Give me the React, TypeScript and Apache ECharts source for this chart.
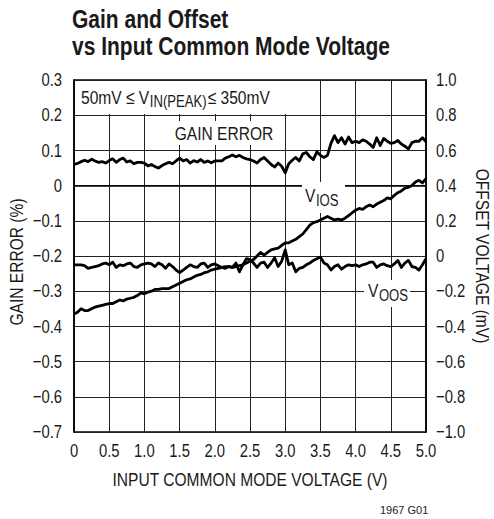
import React, { useEffect, useRef } from 'react';
import * as echarts from 'echarts';

const VOLTAGE = [
  0, 0.05, 0.1, 0.15, 0.2, 0.25, 0.3, 0.35, 0.4, 0.45,
  0.5, 0.55, 0.6, 0.65, 0.7, 0.75, 0.8, 0.85, 0.9, 0.95,
  1.0, 1.05, 1.1, 1.15, 1.2, 1.25, 1.3, 1.35, 1.4, 1.45,
  1.5, 1.55, 1.6, 1.65, 1.7, 1.75, 1.8, 1.85, 1.9, 1.95,
  2.0, 2.05, 2.1, 2.15, 2.2, 2.25, 2.3, 2.35, 2.4, 2.45,
  2.5, 2.55, 2.6, 2.65, 2.7, 2.75, 2.8, 2.85, 2.9, 2.95,
  3.0, 3.05, 3.1, 3.15, 3.2, 3.25, 3.3, 3.35, 3.4, 3.45,
  3.5, 3.55, 3.6, 3.65, 3.7, 3.75, 3.8, 3.85, 3.9, 3.95,
  4.0, 4.05, 4.1, 4.15, 4.2, 4.25, 4.3, 4.35, 4.4, 4.45,
  4.5, 4.55, 4.6, 4.65, 4.7, 4.75, 4.8, 4.85, 4.9, 4.95,
  5.0,
];

// Gain error (%), left axis
const GAIN_ERROR = [
  0.060, 0.063, 0.068, 0.072, 0.068, 0.075, 0.070, 0.066, 0.068, 0.064,
  0.071, 0.076, 0.066, 0.074, 0.078, 0.067, 0.070, 0.062, 0.066, 0.066,
  0.064, 0.056, 0.060, 0.054, 0.050, 0.057, 0.062, 0.066, 0.062, 0.070,
  0.078, 0.070, 0.074, 0.064, 0.071, 0.067, 0.074, 0.066, 0.070, 0.065,
  0.070, 0.070, 0.070, 0.078, 0.082, 0.087, 0.082, 0.086, 0.080, 0.076,
  0.074, 0.070, 0.064, 0.074, 0.080, 0.070, 0.060, 0.053, 0.064, 0.055,
  0.036, 0.062, 0.072, 0.080, 0.070, 0.090, 0.094, 0.082, 0.074, 0.096,
  0.086, 0.080, 0.086, 0.120, 0.142, 0.122, 0.136, 0.118, 0.138, 0.122,
  0.126, 0.122, 0.130, 0.126, 0.118, 0.108, 0.136, 0.114, 0.134, 0.126,
  0.120, 0.122, 0.128, 0.118, 0.112, 0.104, 0.122, 0.126, 0.126, 0.136,
  0.124,
];

// Input offset voltage V_IOS (mV), right axis
const V_IOS = [
  -0.33, -0.32, -0.30, -0.31, -0.31, -0.30, -0.29, -0.285, -0.28, -0.275,
  -0.27, -0.27, -0.26, -0.25, -0.255, -0.245, -0.24, -0.235, -0.225, -0.21,
  -0.215, -0.205, -0.20, -0.19, -0.19, -0.185, -0.185, -0.185, -0.175, -0.165,
  -0.155, -0.145, -0.135, -0.13, -0.12, -0.11, -0.105, -0.095, -0.09, -0.08,
  -0.075, -0.07, -0.065, -0.07, -0.06, -0.065, -0.06, -0.055, -0.05, -0.04,
  -0.03, -0.02, 0.0, 0.02, 0.005, 0.02, 0.035, 0.04, 0.045, 0.06,
  0.075, 0.075, 0.085, 0.095, 0.11, 0.125, 0.15, 0.175, 0.19, 0.195,
  0.205, 0.215, 0.225, 0.215, 0.205, 0.21, 0.205, 0.215, 0.23, 0.245,
  0.26, 0.27, 0.265, 0.28, 0.29, 0.28, 0.295, 0.305, 0.315, 0.33,
  0.325, 0.345, 0.36, 0.37, 0.385, 0.39, 0.40, 0.42, 0.43, 0.415,
  0.44,
];

// Output offset voltage V_OOS (mV), right axis
const V_OOS = [
  -0.05, -0.05, -0.05, -0.055, -0.07, -0.065, -0.06, -0.055, -0.045, -0.04,
  -0.05, -0.035, -0.065, -0.05, -0.055, -0.045, -0.04, -0.06, -0.065, -0.05,
  -0.045, -0.04, -0.045, -0.06, -0.04, -0.05, -0.07, -0.045, -0.06, -0.08,
  -0.095, -0.08, -0.065, -0.05, -0.06, -0.065, -0.045, -0.04, -0.065, -0.05,
  -0.045, -0.055, -0.065, -0.06, -0.06, -0.065, -0.04, -0.09, -0.05, -0.015,
  -0.02, -0.04, -0.065, -0.04, -0.035, -0.065, -0.04, -0.01, -0.06, -0.03,
  0.035, -0.05, -0.04, -0.09, -0.07, -0.065, -0.05, -0.04, -0.025, -0.015,
  -0.005, -0.04, -0.05, -0.08, -0.06, -0.05, -0.075, -0.06, -0.05, -0.055,
  -0.05, -0.06, -0.05, -0.045, -0.035, -0.035, -0.065, -0.05, -0.045, -0.055,
  -0.06, -0.045, -0.025, -0.065, -0.04, -0.025, -0.06, -0.065, -0.08, -0.05,
  -0.015,
];

const X_TICKS = [0, 0.5, 1.0, 1.5, 2.0, 2.5, 3.0, 3.5, 4.0, 4.5, 5.0];
const LEFT_TICKS = [0.3, 0.2, 0.1, 0, -0.1, -0.2, -0.3, -0.4, -0.5, -0.6, -0.7];
const RIGHT_TICKS = [1.0, 0.8, 0.6, 0.4, 0.2, 0, -0.2, -0.4, -0.6, -0.8, -1.0];

const FAMILY = '"Liberation Sans", Arial, Helvetica, sans-serif';
const SQUEEZE = 0.82;
const NUM_SQUEEZE = 0.78;
const INK = '#1a1a1a';

const fmt = (v: number) => {
  if (Math.abs(v) < 1e-9) return '0';
  return v.toFixed(1).replace('-', '\u2212');
};

let measureCtx: CanvasRenderingContext2D | null = null;
const textWidth = (text: string, font: string) => {
  if (!measureCtx) measureCtx = document.createElement('canvas').getContext('2d');
  if (!measureCtx) return text.length * 8;
  measureCtx.font = font;
  return measureCtx.measureText(text).width;
};

export default function App() {
  const ref = useRef<HTMLDivElement>(null);
  useEffect(() => {
    const chart = echarts.init(ref.current!, null, { renderer: 'svg' });
    const line = (data: number[], yAxisIndex: number) => ({
      type: 'line',
      yAxisIndex,
      data: VOLTAGE.map((x, i) => [x, data[i]]),
      showSymbol: false,
      symbol: 'none',
      z: 5,
      lineStyle: { color: '#000', width: 2.8, join: 'round' },
    });
    chart.setOption({
      animation: false,
      backgroundColor: '#fff',
      grid: {
        left: 74, right: 68, top: 80, bottom: 87,
        show: true, borderColor: '#000', borderWidth: 1.5,
      },
      xAxis: {
        type: 'value', min: 0, max: 5, interval: 0.5,
        axisLine: { show: true, lineStyle: { color: '#000', width: 1.5 } },
        axisTick: { show: false },
        axisLabel: { show: false },
        splitLine: { show: true, lineStyle: { color: '#222', width: 1 } },
      },
      yAxis: [
        {
          type: 'value', min: -0.7, max: 0.3, interval: 0.1,
          axisLine: { show: true, lineStyle: { color: '#000', width: 1.5 } },
          axisTick: { show: false },
          axisLabel: { show: false },
          splitLine: { show: true, lineStyle: { color: '#222', width: 1 } },
        },
        {
          type: 'value', min: -1, max: 1, interval: 0.2, position: 'right',
          axisLine: { show: true, lineStyle: { color: '#000', width: 1.5 } },
          axisTick: { show: false },
          axisLabel: { show: false },
          splitLine: { show: false },
        },
      ],
      series: [line(GAIN_ERROR, 0), line(V_IOS, 1), line(V_OOS, 1)],
    });

    const F19 = `19px ${FAMILY}`;
    const F16 = `16px ${FAMILY}`;
    const txt = (text: string, x: number, y: number, font: string, extra: any = {}, sx = SQUEEZE) => ({
      type: 'text', z: 4, x, y, scaleX: sx, silent: true,
      ...extra,
      style: { text, fill: INK, font, verticalAlign: 'middle', ...(extra.style || {}) },
    });

    const g: any[] = [];
    // tick labels positioned through the axes
    X_TICKS.forEach((v) => {
      const px = chart.convertToPixel({ xAxisIndex: 0 }, v) as number;
      g.push(txt(fmt(v), px, 451, F19, { style: { align: 'center' } }, NUM_SQUEEZE));
    });
    LEFT_TICKS.forEach((v) => {
      const py = chart.convertToPixel({ yAxisIndex: 0 }, v) as number;
      g.push(txt(fmt(v), 62, py, F19, { style: { align: 'right' } }, NUM_SQUEEZE));
    });
    RIGHT_TICKS.forEach((v) => {
      const py = chart.convertToPixel({ yAxisIndex: 1 }, v) as number;
      g.push(txt(fmt(v), 436, py, F19, { style: { align: 'left' } }, NUM_SQUEEZE));
    });

    // titles and axis names
    g.push(txt('Gain and Offset', 72, 19, `bold 25px ${FAMILY}`, {}, 0.84));
    g.push(txt('vs Input Common Mode Voltage', 72, 46, `bold 25px ${FAMILY}`, {}, 0.84));
    g.push(txt('INPUT COMMON MODE VOLTAGE (V)', 250, 479, F19, { style: { align: 'center' } }));
    g.push(txt('GAIN ERROR (%)', 16, 262, F19, { rotation: Math.PI / 2, style: { align: 'center' } }));
    g.push(txt('OFFSET VOLTAGE (mV)', 483, 256, F19, { rotation: -Math.PI / 2, style: { align: 'center' } }));
    g.push(txt('1967 G01', 380, 510, `11px ${FAMILY}`, {}, 1));

    // condition box
    g.push({ type: 'rect', z: 3, silent: true, shape: { x: 75, y: 81, width: 229, height: 33 }, style: { fill: '#fff' } });
    let cx = 81;
    const partA = '50mV \u2264 V';
    g.push(txt(partA, cx, 97, F19));
    cx += textWidth(partA, F19) * SQUEEZE + 0.5;
    const partB = 'IN(PEAK)';
    g.push(txt(partB, cx, 102, F16));
    cx += textWidth(partB, F16) * SQUEEZE + 1;
    g.push(txt('\u2264 350mV', cx, 97, F19));

    // GAIN ERROR label
    g.push({ type: 'rect', z: 3, silent: true, shape: { x: 172, y: 121, width: 104, height: 24 }, style: { fill: '#fff' } });
    g.push(txt('GAIN ERROR', 224, 133, F19, { style: { align: 'center' } }));

    // V_IOS label
    g.push({ type: 'rect', z: 3, silent: true, shape: { x: 302, y: 182, width: 43, height: 31 }, style: { fill: '#fff' } });
    g.push(txt('V', 305, 195, F19));
    g.push(txt('IOS', 305 + textWidth('V', F19) * SQUEEZE + 0.5, 201, F16));

    // V_OOS label
    g.push({ type: 'rect', z: 3, silent: true, shape: { x: 364, y: 280, width: 46, height: 27 }, style: { fill: '#fff' } });
    g.push(txt('V', 368, 290, F19));
    g.push(txt('OOS', 368 + textWidth('V', F19) * SQUEEZE + 0.5, 296, F16));

    chart.setOption({ graphic: g });
    return () => chart.dispose();
  }, []);
  return <div ref={ref} style={{ position: 'fixed', left: 0, top: 0, width: 494, height: 519 }} />;
}
